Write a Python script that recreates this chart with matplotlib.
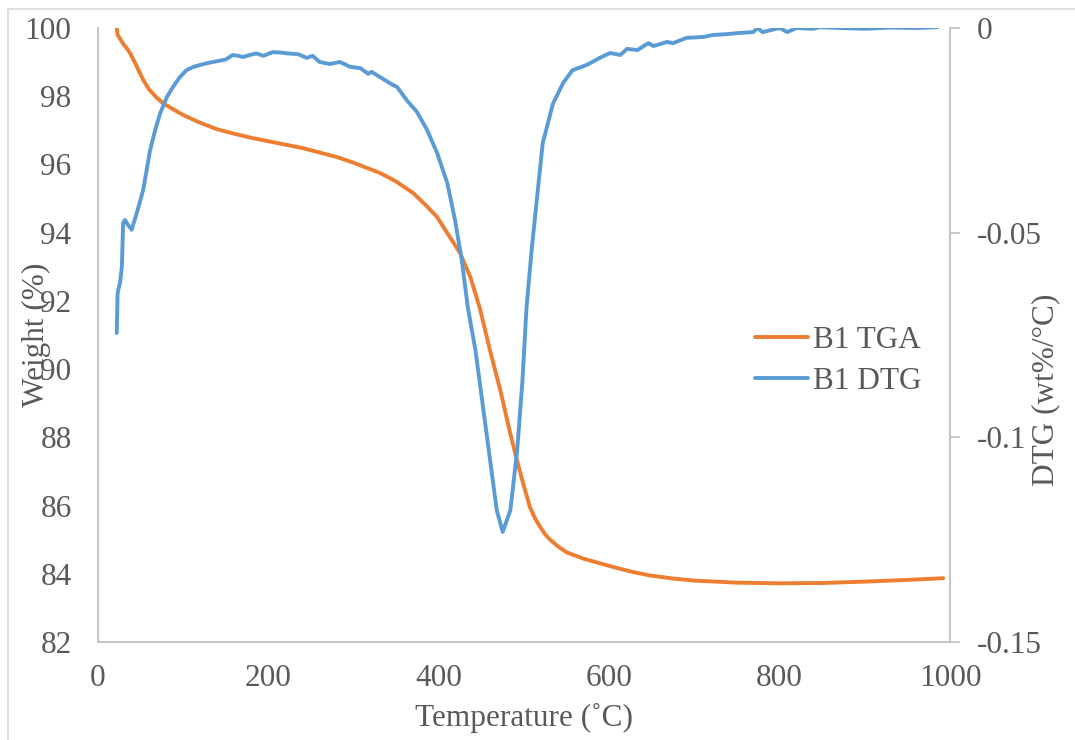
import numpy as np
import matplotlib
matplotlib.use("Agg")
import matplotlib.pyplot as plt
from matplotlib.patches import Rectangle

plt.rcParams['font.family'] = ['Liberation Serif', 'DejaVu Serif']

# TGA curve: temperature (C) vs weight (%)
temp_tga = [22, 23, 26, 30, 34, 38, 45, 53, 60, 68,
            76, 88, 100, 120, 140, 160, 180, 200, 220, 240,
            260, 280, 300, 331, 350, 370, 385, 398, 413, 425,
            437, 448, 460, 472, 484, 492, 499, 507, 513, 519,
            525, 531, 540, 550, 569, 590, 609, 628, 648, 675,
            700, 750, 800, 850, 900, 950, 992]
weight = [100, 99.8, 99.68, 99.52, 99.4, 99.25, 98.9, 98.48, 98.2, 97.98,
          97.8, 97.62, 97.45, 97.22, 97.03, 96.9, 96.78, 96.68, 96.58, 96.48,
          96.35, 96.22, 96.05, 95.75, 95.5, 95.16, 94.8, 94.46, 93.87, 93.4,
          92.7, 91.8, 90.56, 89.4, 88.1, 87.3, 86.65, 85.95, 85.62, 85.37,
          85.15, 84.99, 84.8, 84.63, 84.45, 84.3, 84.17, 84.05, 83.95, 83.86,
          83.8, 83.74, 83.72, 83.73, 83.77, 83.82, 83.87]

# DTG curve: temperature (C) vs derivative (wt%/C)
temp_dtg = [22, 23, 26, 28, 29.5, 31.6, 35, 39.5, 45.5, 53,
            61, 67, 73, 81, 88, 96, 104, 112, 120, 130,
            140, 150, 158, 165, 170, 178, 186, 194, 205, 215,
            222, 235, 245, 252, 260, 272, 284, 296, 308, 317,
            321, 335, 346, 351, 363, 374, 386, 398, 410, 419,
            427, 434, 443, 456, 468, 475, 484, 492, 498, 503,
            509, 515, 522, 534, 546, 557, 574, 589, 601, 613,
            621, 633, 646, 652, 668, 675, 691, 710, 722, 738,
            753, 769, 774, 780, 800, 809, 820, 839, 847, 870,
            900, 930, 960, 985]
dtg = [-0.0745, -0.0648, -0.062, -0.0584, -0.0477, -0.0469, -0.048, -0.0493, -0.0452, -0.0396,
       -0.0300, -0.0250, -0.0208, -0.0168, -0.0144, -0.0120, -0.0103, -0.0095, -0.0090, -0.0085,
       -0.0081, -0.0077, -0.0066, -0.0068, -0.0071, -0.0066, -0.0062, -0.0068, -0.0059, -0.0060,
       -0.0062, -0.0064, -0.0073, -0.0068, -0.0083, -0.0088, -0.0083, -0.0095, -0.0098, -0.0112,
       -0.0107, -0.0125, -0.0139, -0.0144, -0.0178, -0.0204, -0.0248, -0.0305, -0.0379, -0.0469,
       -0.0567, -0.0682, -0.0787, -0.0990, -0.1178, -0.1231, -0.1178, -0.1031, -0.0867, -0.0682,
       -0.0542, -0.0420, -0.0281, -0.0185, -0.0134, -0.0103, -0.0090, -0.0073, -0.0061, -0.0066,
       -0.0051, -0.0054, -0.0037, -0.0044, -0.0034, -0.0037, -0.0024, -0.0022, -0.0017, -0.0015,
       -0.0012, -0.0010, 0.0, -0.0010, 0.0, -0.0010, 0.0, -0.0002, 0.0002, 0.0,
       -0.0002, 0.0001, 0.0, 0.0002]

x_ticks = [0, 200, 400, 600, 800, 1000]
w_ticks = [82, 84, 86, 88, 90, 92, 94, 96, 98, 100]
d_ticks = [0, -0.05, -0.1, -0.15]
d_labels = ['0', '-0.05', '-0.1', '-0.15']

grey = '#595959'
spine_c = '#BFBFBF'
fs = 22.5

fig = plt.figure(figsize=(10.75, 7.4), dpi=100)
ax = fig.add_axes([98/1075, 1 - 642/740, 852/1075, 614/740])
ax2 = ax.twinx()

ax.plot(temp_tga, weight, color='#ED7D31', lw=2.8, label='B1 TGA',
        solid_joinstyle='round', solid_capstyle='round')
ax2.plot(temp_dtg, dtg, color='#5B9BD5', lw=2.8, label='B1 DTG',
         solid_joinstyle='round', solid_capstyle='round')

ax.set_xlim(0, 1000)
ax.set_ylim(82, 100)
ax2.set_ylim(-0.15, 0)

ax.set_xticks(x_ticks)
ax.set_yticks(w_ticks)
ax2.set_yticks(d_ticks)
ax2.set_yticklabels(d_labels)

ax.tick_params(axis='both', length=0, labelsize=fs, labelcolor=grey)
ax.tick_params(axis='y', pad=19)
ax.tick_params(axis='x', pad=16)
ax2.tick_params(axis='y', direction='out', length=7, width=1.2, color=spine_c,
                labelsize=fs, labelcolor=grey, pad=12)

for a in (ax, ax2):
    for s in a.spines.values():
        s.set_visible(False)
        s.set_color(spine_c)
        s.set_linewidth(1.3)
ax.spines['left'].set_visible(True)
ax.spines['bottom'].set_visible(True)
ax2.spines['right'].set_visible(True)

fig.text(524/1075, 1 - 718/740, 'Temperature (\u02daC)', ha='center', va='center',
         fontsize=fs, color=grey)
fig.text(36/1075, 1 - 335/740, 'Weight (%)', ha='center', va='center',
         rotation=90, fontsize=fs, color=grey)
fig.text(1046/1075, 1 - 390/740, 'DTG (wt%/\u00b0C)', ha='center', va='center',
         rotation=90, fontsize=fs, color=grey)

h1, l1 = ax.get_legend_handles_labels()
h2, l2 = ax2.get_legend_handles_labels()
fig.legend(h1 + h2, l1 + l2, loc='center left', bbox_to_anchor=(755/1075, 1 - 361/740),
           frameon=False, fontsize=fs, labelcolor=grey, handlelength=1.7,
           handletextpad=0.15, labelspacing=0.4, borderpad=0, borderaxespad=0)

# chart area border
fig.patches.append(Rectangle((8/1075, -0.1), 1.2, 1.1 - 9/740, transform=fig.transFigure,
                             fill=False, edgecolor='#D9D9D9', lw=1.2))

fig.savefig('out.png', dpi=100)
